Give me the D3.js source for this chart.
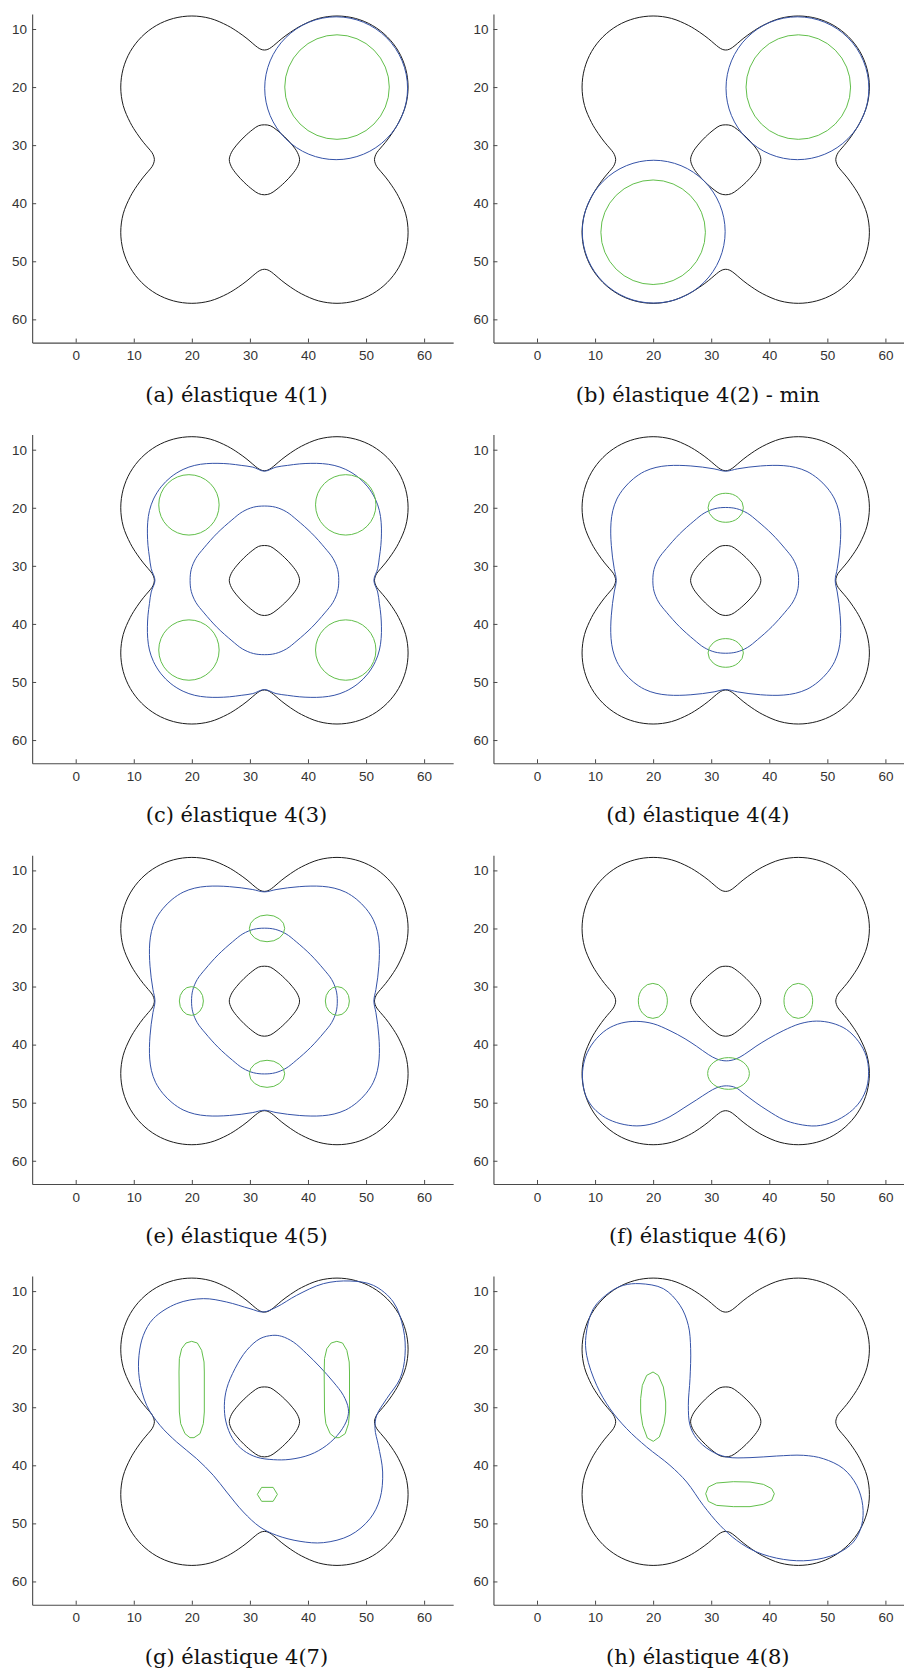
<!DOCTYPE html>
<html><head><meta charset="utf-8">
<script src="https://cdnjs.cloudflare.com/ajax/libs/d3/7.8.5/d3.min.js"></script>
<style>body{margin:0;background:#fff}</style>
</head><body><svg id="chart"></svg>
<script>
// ---------------- data ----------------
const captions = ["(a) élastique 4(1)", "(b) élastique 4(2) - min", "(c) élastique 4(3)", "(d) élastique 4(4)",
                  "(e) élastique 4(5)", "(f) élastique 4(6)", "(g) élastique 4(7)", "(h) élastique 4(8)"];
const xTicks = [0, 10, 20, 30, 40, 50, 60];
const yTicks = [10, 20, 30, 40, 50, 60];
const xDomain = [-7.5, 65];
const yDomain = [7.4, 64];

// black domain boundary (same in every panel)
const blackOuter = [[32.5,13.62],[33.1,13.5],[33.7,13.15],[34.5,12.5],[35.5,11.65],[37.0,10.55],[38.88,9.4],[41.83,8.18],[45,7.76],[48.17,8.18],[51.12,9.4],[53.65,11.35],[55.6,13.88],[56.82,16.83],[57.24,20],[56.82,23.17],[55.6,26.12],
[54.45,28.0],[53.35,29.5],[52.5,30.5],[51.85,31.3],[51.57,31.9],[51.45,32.5],[51.57,33.1],[51.85,33.7],[52.5,34.5],[53.35,35.5],[54.45,37.0],
[55.6,38.88],[56.82,41.83],[57.24,45],[56.82,48.17],[55.6,51.12],[53.65,53.65],[51.12,55.6],[48.17,56.82],[45,57.24],[41.83,56.82],[38.88,55.6],
[37.0,54.45],[35.5,53.35],[34.5,52.5],[33.7,51.85],[33.1,51.5],[32.5,51.38],[31.9,51.5],[31.3,51.85],[30.5,52.5],[29.5,53.35],[28.0,54.45],
[26.12,55.6],[23.17,56.82],[20,57.24],[16.83,56.82],[13.88,55.6],[11.35,53.65],[9.4,51.12],[8.18,48.17],[7.76,45],[8.18,41.83],[9.4,38.88],
[10.55,37.0],[11.65,35.5],[12.5,34.5],[13.15,33.7],[13.43,33.1],[13.55,32.5],[13.43,31.9],[13.15,31.3],[12.5,30.5],[11.65,29.5],[10.55,28.0],
[9.4,26.12],[8.18,23.17],[7.76,20],[8.18,16.83],[9.4,13.88],[11.35,11.35],[13.88,9.4],[16.83,8.18],[20,7.76],[23.17,8.18],[26.12,9.4],
[28.0,10.55],[29.5,11.65],[30.5,12.5],[31.3,13.15],[31.9,13.5]];
const blackInner = [[32.5,26.5],[33.5,26.65],[34.5,27.3],[36.0,28.6],[37.3,30.0],[38.2,31.3],[38.55,32.5],[38.2,33.7],[37.3,35.0],[36.0,36.4],[34.5,37.7],[33.5,38.35],[32.5,38.55],[31.5,38.35],[30.5,37.7],[29.0,36.4],[27.7,35.0],[26.8,33.7],[26.45,32.5],[26.8,31.3],[27.7,30.0],[29.0,28.6],[30.5,27.3],[31.5,26.65]];

// (a), (b): circles [cx, cy, r]
const blueCirclesA = [[44.85,20.2,12.3]];
const greenCirclesA = [[45,20,9.0]];
const blueCirclesB = [[44.85,20.2,12.3],[20.1,44.9,12.3]];
const greenCirclesB = [[45,20,9.0],[20,45,9.0]];

// (c)
const blueOuterC = [[32.5,13.7],[34.5,13.0],[36.5,12.7],[38.5,12.45],[40.5,12.35],[42.5,12.4],[44.5,12.7],[46.5,13.4],[48.6,14.7],[50.3,16.4],[51.6,18.5],[52.3,20.5],[52.6,22.5],[52.65,24.5],[52.55,26.5],[52.3,28.5],[52.0,30.5],[51.35,32.5],
[52.0,34.5],[52.3,36.5],[52.55,38.5],[52.65,40.5],[52.6,42.5],[52.3,44.5],[51.6,46.5],[50.3,48.6],[48.6,50.3],[46.5,51.6],[44.5,52.3],[42.5,52.6],[40.5,52.65],[38.5,52.55],[36.5,52.3],[34.5,52.0],[32.5,51.3],
[30.5,52.0],[28.5,52.3],[26.5,52.55],[24.5,52.65],[22.5,52.6],[20.5,52.3],[18.5,51.6],[16.4,50.3],[14.7,48.6],[13.4,46.5],[12.7,44.5],[12.4,42.5],[12.35,40.5],[12.45,38.5],[12.7,36.5],[13.0,34.5],[13.65,32.5],
[13.0,30.5],[12.7,28.5],[12.45,26.5],[12.35,24.5],[12.4,22.5],[12.7,20.5],[13.4,18.5],[14.7,16.4],[16.4,14.7],[18.5,13.4],[20.5,12.7],[22.5,12.4],[24.5,12.35],[26.5,12.45],[28.5,12.7],[30.5,13.0]];
const blueInnerC = [[32.5,19.7],[34.4,19.9],[36.3,20.7],[38.1,22.1],[40.63,24.37],[42.9,26.9],[44.3,28.7],[45.1,30.6],[45.3,32.5],[45.1,34.4],[44.3,36.3],[42.9,38.1],[40.63,40.63],[38.1,42.9],[36.3,44.3],[34.4,45.1],[32.5,45.3],[30.6,45.1],[28.7,44.3],[26.9,42.9],[24.37,40.63],[22.1,38.1],[20.7,36.3],[19.9,34.4],[19.7,32.5],[19.9,30.6],[20.7,28.7],[22.1,26.9],[24.37,24.37],[26.9,22.1],[28.7,20.7],[30.6,19.9]];
const greenCirclesC = [[19.5,19.5,5.2],[46.5,19.5,5.2],[19.5,44.5,5.2],[46.5,44.5,5.2]];

// (d), (e)
const blueOuterD = [[32.5,13.7],[34.5,13.3],[36.5,13.0],[38.5,12.8],[40.5,12.7],[42.5,12.75],[44.5,13.05],[46.5,13.75],[48.4,15.0],[50.0,16.6],[51.25,18.5],[51.95,20.5],[52.25,22.5],[52.3,24.5],[52.2,26.5],[52.0,28.5],[51.7,30.5],[51.35,32.5],
[51.7,34.5],[52.0,36.5],[52.2,38.5],[52.3,40.5],[52.25,42.5],[51.95,44.5],[51.25,46.5],[50.0,48.4],[48.4,50.0],[46.5,51.25],[44.5,51.95],[42.5,52.25],[40.5,52.3],[38.5,52.2],[36.5,52.0],[34.5,51.7],[32.5,51.3],
[30.5,51.7],[28.5,52.0],[26.5,52.2],[24.5,52.3],[22.5,52.25],[20.5,51.95],[18.5,51.25],[16.6,50.0],[15.0,48.4],[13.75,46.5],[13.05,44.5],[12.75,42.5],[12.7,40.5],[12.8,38.5],[13.0,36.5],[13.3,34.5],[13.65,32.5],
[13.3,30.5],[13.0,28.5],[12.8,26.5],[12.7,24.5],[12.75,22.5],[13.05,20.5],[13.75,18.5],[15.0,16.6],[16.6,15.0],[18.5,13.75],[20.5,13.05],[22.5,12.75],[24.5,12.7],[26.5,12.8],[28.5,13.0],[30.5,13.3]];
const blueInnerD = [[32.5,19.95],[34.36,20.15],[36.22,20.93],[37.99,22.3],[40.47,24.53],[42.7,27.01],[44.07,28.78],[44.85,30.64],[45.05,32.5],[44.85,34.36],[44.07,36.22],[42.7,37.99],[40.47,40.47],[37.99,42.7],[36.22,44.07],[34.36,44.85],[32.5,45.05],[30.64,44.85],[28.78,44.07],[27.01,42.7],[24.53,40.47],[22.3,37.99],[20.93,36.22],[20.15,34.36],[19.95,32.5],[20.15,30.64],[20.93,28.78],[22.3,27.01],[24.53,24.53],[27.01,22.3],[28.78,20.93],[30.64,20.15]];
// ellipses [cx, cy, rx, ry]
const greenEllipsesD = [[32.5,20.0,3.04,2.5],[32.5,45.0,3.04,2.47]];
const greenEllipsesE = [[32.95,19.98,3.04,2.3],[32.95,45.03,3.04,2.33],[19.92,32.49,2.07,2.47],[45.06,32.49,2.07,2.47]];

// (f)
const blueF = [[7.85,44.6],[8.4,42.0],[9.8,39.5],[12.0,37.4],[14.5,36.3],[17.2,36.0],[20.0,36.4],[22.9,37.6],[25.5,39.0],[27.5,40.3],[29.5,41.7],[31.0,42.5],[32.6,42.8],[34.2,42.5],[35.7,41.7],[37.7,40.3],[39.8,39.0],[42.4,37.6],[45.3,36.4],[48.1,35.95],[50.8,36.3],[53.3,37.4],[55.4,39.5],[56.7,42.0],[57.1,44.6],[56.8,47.3],[55.7,49.7],[53.8,51.7],[51.0,53.3],[48.1,54.0],[45.0,53.7],[42.4,52.9],[39.8,51.4],[37.7,50.0],[35.7,48.5],[34.2,47.4],[32.6,47.1],[31.0,47.4],[29.5,48.2],[27.5,49.5],[25.3,50.9],[22.9,52.4],[20.0,53.6],[17.2,54.0],[14.3,53.6],[11.8,52.6],[9.7,50.9],[8.4,48.8],[7.9,46.6]];
const greenEllipsesF = [[19.95,32.47,2.5,3.01],[45.0,32.47,2.47,3.01],[32.98,44.97,3.59,2.73]];

// (g)
const blueOuterG = [[13.37,14.75],[17.39,12.16],[21.98,11.3],[26.0,11.88],[30.02,13.03],[32.31,13.6],[34.61,12.74],[38.05,10.73],[42.65,8.72],[47.24,8.26],[51.26,9.01],[54.7,11.88],[56.42,16.47],[56.71,21.06],[55.85,25.08],[53.55,28.53],[51.83,31.4],[51.54,33.69],[52.12,36.56],[52.86,41.15],[52.4,45.75],[50.68,49.19],[47.24,52.06],[42.65,53.32],[38.63,53.09],[34.61,52.06],[31.74,50.63],[28.87,48.04],[26.0,44.6],[23.7,41.73],[20.83,38.86],[17.39,35.99],[14.52,33.12],[12.22,29.67],[10.96,25.08],[10.9,21.06],[11.65,17.62]];
const blueInnerG = [[33.92,17.62],[31.74,18.19],[29.44,20.2],[27.43,23.36],[26.0,26.8],[25.6,29.67],[25.88,32.54],[27.03,35.41],[28.87,37.42],[31.17,38.6],[34.04,39.03],[36.91,38.97],[40.35,38.17],[43.22,36.56],[45.52,34.27],[46.78,31.97],[46.95,30.25],[46.09,27.95],[44.37,25.65],[42.07,23.07],[39.78,20.78],[37.48,18.77],[35.47,17.79]];
const greenLeftG = [[19.97,18.65],[20.95,18.94],[21.69,20.2],[22.1,22.21],[22.15,23.93],[22.15,30.82],[21.98,32.83],[21.41,34.55],[20.37,35.24],[19.68,35.24],[18.82,34.55],[18.08,32.83],[17.85,30.82],[17.79,23.93],[17.85,21.63],[18.25,19.91],[18.99,18.94]];
const greenRightG = [[44.97,18.65],[45.95,18.94],[46.69,20.2],[47.1,22.21],[47.15,23.93],[47.15,30.82],[46.98,32.83],[46.41,34.55],[45.37,35.24],[44.68,35.24],[43.82,34.55],[43.08,32.83],[42.85,30.82],[42.79,23.93],[42.85,21.63],[43.25,19.91],[43.99,18.94]];
const greenSmallG = [[31.28,45.0],[32.02,43.8],[34.0,43.8],[34.73,45.0],[34.0,46.2],[32.02,46.2]];

// (h)
const blueH = [[17.74,8.72],[21.76,9.58],[24.63,12.45],[26.06,15.9],[26.46,19.91],[26.35,25.08],[26.06,29.67],[26.35,33.12],[27.5,35.41],[29.79,37.42],[32.66,38.57],[36.68,38.68],[41.27,38.4],[45.87,38.28],[49.31,38.86],[52.76,40.58],[55.05,43.45],[56.09,46.9],[55.91,50.34],[54.48,53.21],[51.61,55.22],[47.01,56.37],[42.42,56.2],[37.83,54.93],[34.39,52.92],[31.52,50.34],[28.64,46.9],[25.78,42.88],[22.9,40.01],[18.89,36.85],[15.44,33.69],[12.57,30.25],[10.28,26.23],[8.55,21.06],[8.44,17.62],[9.7,13.03],[12.57,10.15],[14.87,9.01]];
const greenVertH = [[19.98,23.93],[20.9,24.51],[21.76,26.52],[22.16,29.1],[22.16,30.82],[21.87,32.83],[21.07,35.13],[20.03,35.87],[19.0,35.3],[18.2,33.12],[17.85,30.82],[17.85,28.52],[18.14,26.23],[18.89,24.51]];
const greenHorzH = [[29.05,44.89],[29.51,43.74],[30.94,43.05],[33.81,42.82],[36.68,42.88],[38.98,43.28],[40.41,44.02],[40.87,44.89],[40.41,46.03],[38.98,46.72],[36.68,47.12],[33.81,47.12],[30.94,46.9],[29.51,46.21]];

// ---------------- panels table ----------------
const BLUE = "#3553a8", GREEN = "#62bf4b", BLACK = "#1c1c1c";
const panels = [
  {cap: captions[0], smooth: [], poly: [], circles: [[blueCirclesA, BLUE], [greenCirclesA, GREEN]], ellipses: []},
  {cap: captions[1], smooth: [], poly: [], circles: [[blueCirclesB, BLUE], [greenCirclesB, GREEN]], ellipses: []},
  {cap: captions[2], smooth: [[blueOuterC, BLUE], [blueInnerC, BLUE]], poly: [], circles: [[greenCirclesC, GREEN]], ellipses: []},
  {cap: captions[3], smooth: [[blueOuterD, BLUE], [blueInnerD, BLUE]], poly: [], circles: [], ellipses: [[greenEllipsesD, GREEN]]},
  {cap: captions[4], smooth: [[blueOuterD, BLUE], [blueInnerD, BLUE]], poly: [], circles: [], ellipses: [[greenEllipsesE, GREEN]]},
  {cap: captions[5], smooth: [[blueF, BLUE]], poly: [], circles: [], ellipses: [[greenEllipsesF, GREEN]]},
  {cap: captions[6], smooth: [[blueOuterG, BLUE], [blueInnerG, BLUE]], poly: [[greenLeftG, GREEN], [greenRightG, GREEN], [greenSmallG, GREEN]], circles: [], ellipses: []},
  {cap: captions[7], smooth: [[blueH, BLUE]], poly: [[greenVertH, GREEN], [greenHorzH, GREEN]], circles: [], ellipses: []}
];

// ---------------- layout ----------------
const W = 904, H = 1671;
const K = 5.807;                 // px per data unit
const colZero = [75.7, 537];     // pixel of x = 0
const rowTen0 = 29, rowStep = 420.7; // pixel of y = 10 in first row, row spacing

const svg = d3.select("#chart").attr("width", W).attr("height", H)
  .style("font-family", "'Liberation Sans', Arial, sans-serif");

panels.forEach((p, i) => {
  const col = i % 2, row = Math.floor(i / 2);
  const x0 = colZero[col], t = rowTen0 + row * rowStep;
  const x = d3.scaleLinear().domain(xDomain).range([x0 + xDomain[0] * K, x0 + xDomain[1] * K]);
  const y = d3.scaleLinear().domain(yDomain).range([t + (yDomain[0] - 10) * K, t + (yDomain[1] - 10) * K]);
  const g = svg.append("g");

  const smoothLine = d3.line().x(d => x(d[0])).y(d => y(d[1])).curve(d3.curveCatmullRomClosed.alpha(0.5));
  const polyLine = d3.line().x(d => x(d[0])).y(d => y(d[1])).curve(d3.curveLinearClosed);

  // axes
  const xa = g.append("g").attr("transform", `translate(0,${y(yDomain[1])})`)
    .call(d3.axisBottom(x).tickValues(xTicks).tickSizeInner(-4).tickSizeOuter(0).tickPadding(8));
  const ya = g.append("g").attr("transform", `translate(${x(xDomain[0])},0)`)
    .call(d3.axisLeft(y).tickValues(yTicks).tickSizeInner(-4).tickSizeOuter(0).tickPadding(5));
  [xa, ya].forEach(a => {
    a.select(".domain").attr("stroke", "#4a4a4a").attr("stroke-width", 1.1);
    a.selectAll(".tick line").attr("stroke", "#4a4a4a").attr("stroke-width", 1);
    a.selectAll(".tick text").attr("fill", "#333").style("font-size", "13.5px").style("font-family", "'Liberation Sans', Arial, sans-serif");
  });

  // black boundary
  [blackOuter, blackInner].forEach(pts => {
    g.append("path").attr("d", smoothLine(pts)).attr("fill", "none").attr("stroke", BLACK).attr("stroke-width", 1);
  });

  const drawCircles = ([arr, color]) => {
    g.selectAll(null).data(arr).join("ellipse")
      .attr("cx", d => x(d[0])).attr("cy", d => y(d[1]))
      .attr("rx", d => x(d[0] + d[2]) - x(d[0])).attr("ry", d => y(d[1] + d[2]) - y(d[1]))
      .attr("fill", "none").attr("stroke", color).attr("stroke-width", 1);
  };
  // blue shapes
  p.circles.filter(c => c[1] === BLUE).forEach(drawCircles);
  p.smooth.forEach(([pts, color]) => {
    g.append("path").attr("d", smoothLine(pts)).attr("fill", "none").attr("stroke", color).attr("stroke-width", 1);
  });
  // green shapes
  p.circles.filter(c => c[1] !== BLUE).forEach(drawCircles);
  p.ellipses.forEach(([arr, color]) => {
    g.selectAll(null).data(arr).join("ellipse")
      .attr("cx", d => x(d[0])).attr("cy", d => y(d[1]))
      .attr("rx", d => x(d[0] + d[2]) - x(d[0])).attr("ry", d => y(d[1] + d[3]) - y(d[1]))
      .attr("fill", "none").attr("stroke", color).attr("stroke-width", 1);
  });
  p.poly.forEach(([pts, color]) => {
    g.append("path").attr("d", polyLine(pts)).attr("fill", "none").attr("stroke", color).attr("stroke-width", 1);
  });

  // caption
  g.append("text").attr("x", x0 + 160.8).attr("y", t + 372.5)
    .attr("text-anchor", "middle")
    .style("font-family", "'DejaVu Serif', serif").style("font-size", "21px").attr("fill", "#111")
    .text(p.cap);
});
</script>
</body></html>
